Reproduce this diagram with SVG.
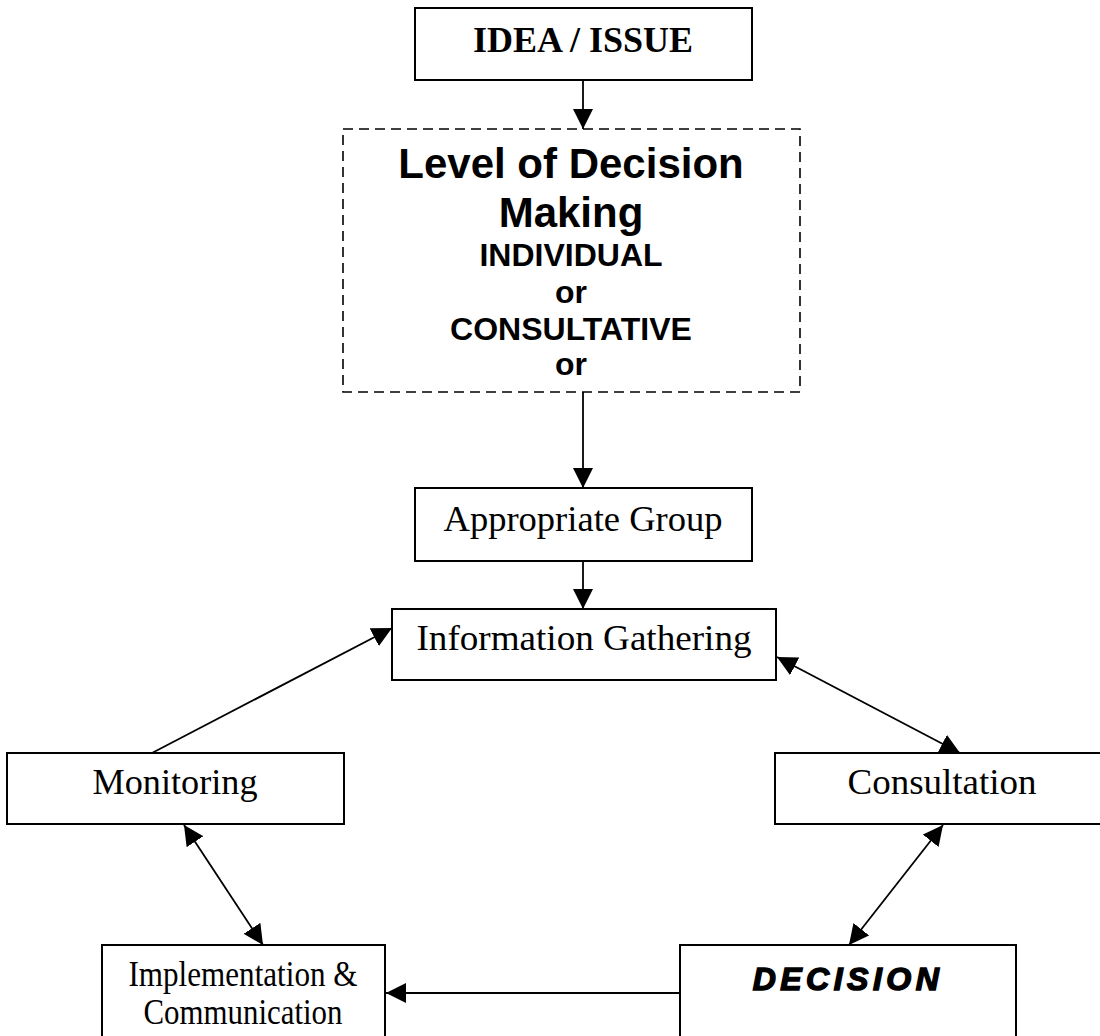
<svg xmlns="http://www.w3.org/2000/svg" width="1100" height="1036" viewBox="0 0 1100 1036">
<style>
.box{fill:#fff;stroke:#000;stroke-width:2}
.dash{fill:#fff;stroke:#000;stroke-width:1.6;stroke-dasharray:10,6}
.lbl{font-family:"Liberation Serif","Times New Roman",serif;font-size:35px;fill:#000;text-anchor:middle}
.sans{font-family:"Liberation Sans",Arial,sans-serif;font-weight:bold;fill:#000;text-anchor:middle}
.con{stroke:#000;stroke-width:1.8;fill:none}
</style>
<defs>
<marker id="ah" markerUnits="userSpaceOnUse" markerWidth="20" markerHeight="20" refX="20" refY="10" orient="auto-start-reverse" viewBox="0 0 20 20">
<path d="M0,0 L20,10 L0,20 z" fill="#000"/>
</marker>
</defs>
<rect width="1100" height="1036" fill="#fff"/>
<g id="connectors">
<line class="con" x1="583" y1="80" x2="583" y2="129" marker-end="url(#ah)"/>
<line class="con" x1="583" y1="392" x2="583" y2="488" marker-end="url(#ah)"/>
<line class="con" x1="583" y1="561" x2="583" y2="609" marker-end="url(#ah)"/>
<line class="con" x1="152" y1="753" x2="392" y2="628" marker-end="url(#ah)"/>
<line class="con" x1="777" y1="657" x2="960" y2="753" marker-start="url(#ah)" marker-end="url(#ah)"/>
<line class="con" x1="184" y1="825" x2="263" y2="945" marker-start="url(#ah)" marker-end="url(#ah)"/>
<line class="con" x1="943" y1="825" x2="849" y2="945" marker-start="url(#ah)" marker-end="url(#ah)"/>
<line class="con" x1="680" y1="993" x2="386" y2="993" marker-end="url(#ah)"/>
</g>
<g id="idea">
<rect class="box" x="415" y="8" width="337" height="72"/>
<text x="583" y="52" font-family="'Liberation Serif','Times New Roman',serif" font-weight="bold" font-size="36" text-anchor="middle">IDEA / ISSUE</text>
</g>
<g id="level">
<rect class="dash" x="343" y="129" width="457" height="263"/>
<text class="sans" x="571" y="178" font-size="42">Level of Decision</text>
<text class="sans" x="571" y="227" font-size="42">Making</text>
<text class="sans" x="571" y="266" font-size="32">INDIVIDUAL</text>
<text class="sans" x="571" y="303" font-size="32">or</text>
<text class="sans" x="571" y="340" font-size="32">CONSULTATIVE</text>
<text class="sans" x="571" y="375" font-size="32">or</text>
</g>
<g id="group">
<rect class="box" x="415" y="488" width="337" height="73"/>
<text class="lbl" x="583" y="531" textLength="279" lengthAdjust="spacingAndGlyphs">Appropriate Group</text>
</g>
<g id="info">
<rect class="box" x="392" y="609" width="384" height="71"/>
<text class="lbl" x="584" y="650" textLength="335" lengthAdjust="spacingAndGlyphs">Information Gathering</text>
</g>
<g id="monitoring">
<rect class="box" x="7" y="753" width="337" height="71"/>
<text class="lbl" x="175" y="794" textLength="165" lengthAdjust="spacingAndGlyphs">Monitoring</text>
</g>
<g id="consultation">
<rect class="box" x="775" y="753" width="340" height="71"/>
<text class="lbl" x="942" y="794" textLength="189" lengthAdjust="spacingAndGlyphs">Consultation</text>
</g>
<g id="implementation">
<rect class="box" x="102" y="945" width="283" height="100"/>
<text class="lbl" x="243" y="986" font-size="33" textLength="229" lengthAdjust="spacingAndGlyphs">Implementation &amp;</text>
<text class="lbl" x="243" y="1024" font-size="33" textLength="199" lengthAdjust="spacingAndGlyphs">Communication</text>
</g>
<g id="decision">
<rect class="box" x="680" y="945" width="336" height="100"/>
<text class="sans" x="848" y="990" font-size="32" font-style="italic" letter-spacing="4.5" stroke="#000" stroke-width="1.5">DECISION</text>
</g>
</svg>
